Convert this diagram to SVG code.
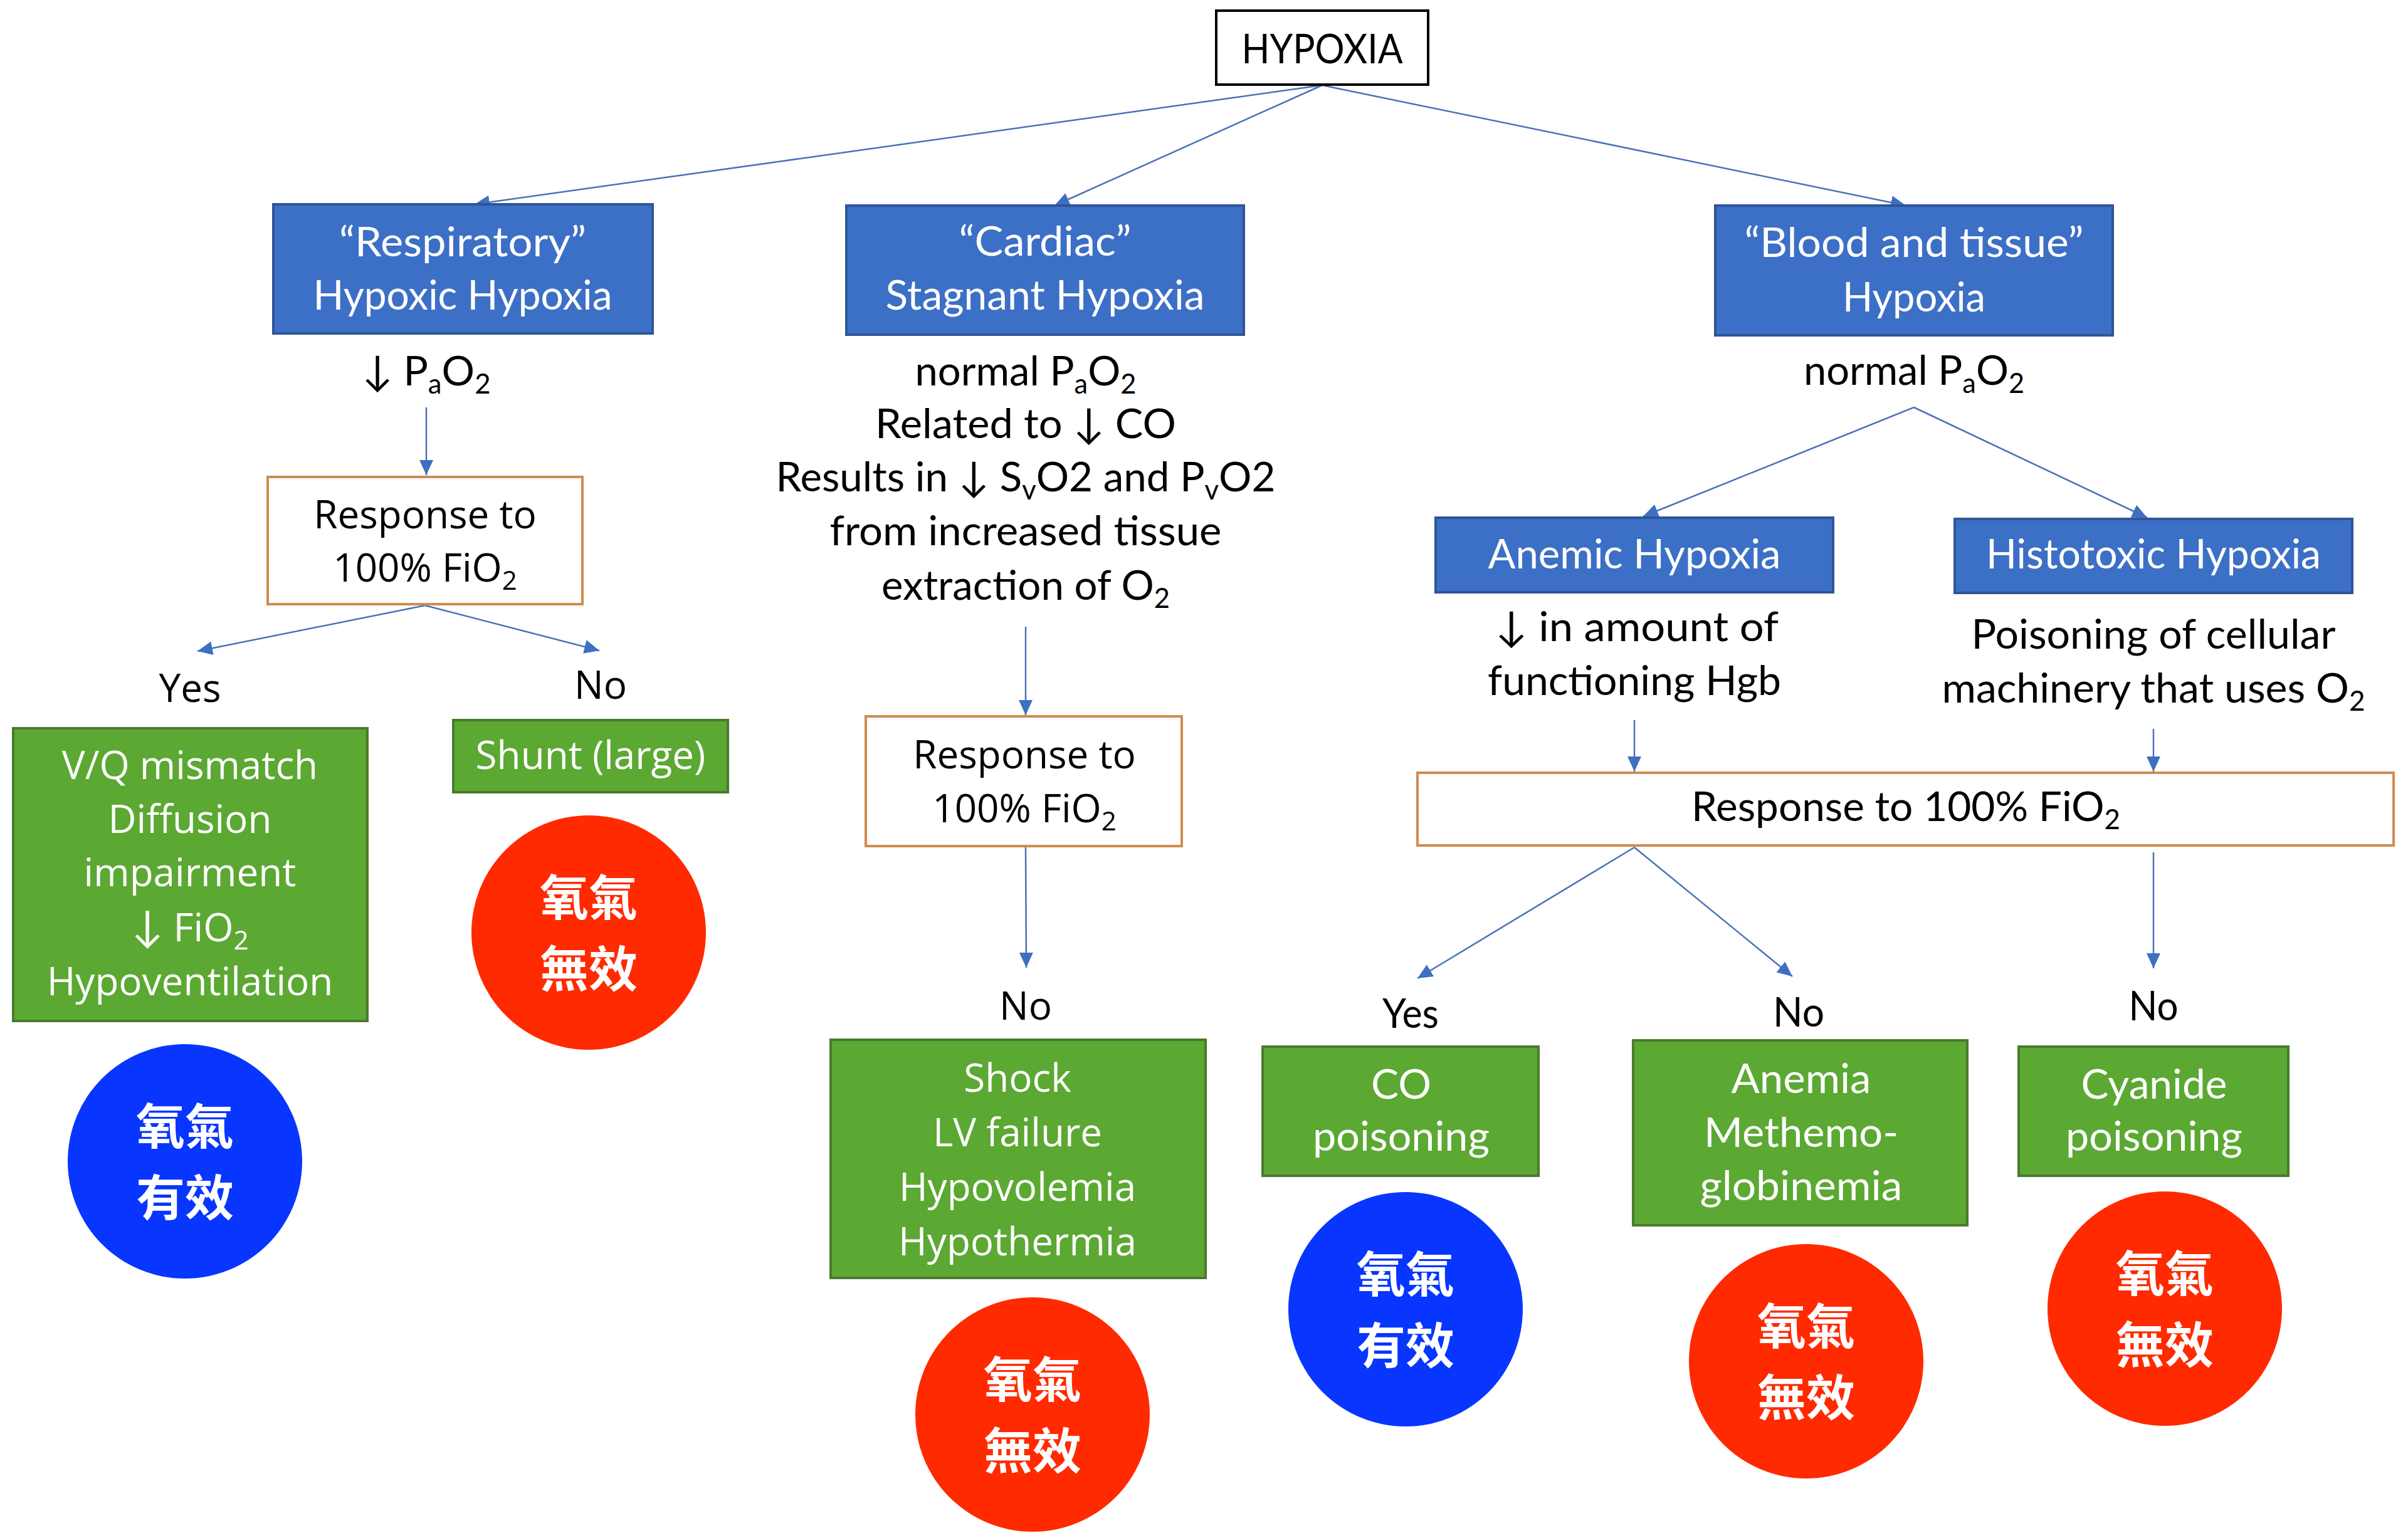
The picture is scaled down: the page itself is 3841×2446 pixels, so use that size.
<svg xmlns="http://www.w3.org/2000/svg" width="3841" height="2446" viewBox="0 0 3841 2446">
<style>
.bg{fill:#ffffff}
.bbox{fill:#3C6FC6;stroke:#2F5597;stroke-width:4}
.gbox{fill:#5BA832;stroke:#4A7A2E;stroke-width:4}
.obox{fill:#ffffff;stroke:#D08C4E;stroke-width:4}
.kbox{fill:#ffffff;stroke:#000000;stroke-width:4}
.red{fill:#FF2A00}
.blue{fill:#0836FF}
.cal{font-family:Lato,"Noto Sans",sans-serif;font-size:66px;text-anchor:middle}
.seg{font-family:"Open Sans","Noto Sans",sans-serif;font-size:62px;text-anchor:middle}
.arr{font-family:Lato,"DejaVu Sans",sans-serif;font-size:68px}
.w{fill:#ffffff}
.k{fill:#000000}
.cjk{font-family:"Noto Sans CJK TC","Noto Sans CJK SC",sans-serif;font-size:78px;font-weight:bold;fill:#ffffff;text-anchor:middle}
.con line{stroke:#4A72B8;stroke-width:2.5;fill:none;marker-end:url(#ah)}
</style>
<defs>
<marker id="ah" markerUnits="userSpaceOnUse" markerWidth="26" markerHeight="22" refX="24" refY="11" orient="auto">
<path d="M0,0 L24,11 L0,22 Z" fill="#3F6FC0"/>
</marker>
</defs>
<rect class="bg" x="0" y="0" width="3841" height="2446"/>

<g id="connectors" class="con">
<line x1="2109" y1="136" x2="757" y2="326"/>
<line x1="2109" y1="136" x2="1682" y2="328"/>
<line x1="2109" y1="136" x2="3040" y2="328"/>
<line x1="680" y1="650" x2="680" y2="758"/>
<line x1="678" y1="966" x2="315" y2="1039"/>
<line x1="678" y1="966" x2="956" y2="1038"/>
<line x1="1636" y1="1000" x2="1636" y2="1141"/>
<line x1="1636" y1="1352" x2="1637" y2="1544"/>
<line x1="3053" y1="650" x2="2621" y2="824"/>
<line x1="3053" y1="650" x2="3425" y2="826"/>
<line x1="2607" y1="1149" x2="2607" y2="1231"/>
<line x1="3435" y1="1163" x2="3435" y2="1231"/>
<line x1="2607" y1="1352" x2="2261" y2="1561"/>
<line x1="2607" y1="1352" x2="2859" y2="1558"/>
<line x1="3435" y1="1360" x2="3435" y2="1545"/>
</g>

<g id="hypoxia">
<rect class="kbox" x="1940" y="17" width="338" height="118"/>
<text class="cal k" x="2109" y="101" textLength="257" lengthAdjust="spacingAndGlyphs">HYPOXIA</text>
</g>

<g id="respiratory">
<rect class="bbox" x="436" y="326" width="605" height="206"/>
<text class="cal w" x="738" y="409" textLength="394" lengthAdjust="spacingAndGlyphs">“Respiratory”</text>
<text class="cal w" x="738" y="494" textLength="477" lengthAdjust="spacingAndGlyphs">Hypoxic Hypoxia</text>
</g>

<g id="resp-pao2">
<text class="cal k" x="680" y="615" textLength="205" lengthAdjust="spacingAndGlyphs">↓ P<tspan font-size="44" dy="13">a</tspan><tspan dy="-13">O</tspan><tspan font-size="44" dy="13">2</tspan></text>
</g>

<g id="resp-response">
<rect class="obox" x="427" y="761" width="502" height="203"/>
<text class="seg k" x="678" y="843">Response to</text>
<text class="seg k" x="678" y="928">100% FiO<tspan font-size="42" dy="13">2</tspan></text>
</g>

<g id="resp-yes"><text class="seg k" x="303" y="1120">Yes</text></g>
<g id="resp-no"><text class="seg k" x="958" y="1115">No</text></g>

<g id="vq">
<rect class="gbox" x="21" y="1162" width="565" height="467"/>
<text class="seg w" x="303" y="1243">V/Q mismatch</text>
<text class="seg w" x="303" y="1329">Diffusion</text>
<text class="seg w" x="303" y="1414">impairment</text>
<text class="seg w" x="303" y="1502"><tspan class="arr">↓</tspan> FiO<tspan font-size="42" dy="13">2</tspan></text>
<text class="seg w" x="303" y="1588">Hypoventilation</text>
</g>

<g id="shunt">
<rect class="gbox" x="723" y="1149" width="438" height="115"/>
<text class="seg w" x="942" y="1227">Shunt (large)</text>
</g>

<g id="circle-vq">
<circle class="blue" cx="295" cy="1853" r="187"/>
<text class="cjk" x="295" y="1826">氧氣</text>
<text class="cjk" x="295" y="1940">有效</text>
</g>

<g id="circle-shunt">
<circle class="red" cx="939" cy="1488" r="187"/>
<text class="cjk" x="939" y="1461">氧氣</text>
<text class="cjk" x="939" y="1575">無效</text>
</g>

<g id="cardiac">
<rect class="bbox" x="1350" y="328" width="634" height="206"/>
<text class="cal w" x="1667" y="408" textLength="275" lengthAdjust="spacingAndGlyphs">“Cardiac”</text>
<text class="cal w" x="1667" y="494" textLength="509" lengthAdjust="spacingAndGlyphs">Stagnant Hypoxia</text>
</g>

<g id="cardiac-desc">
<text class="cal k" x="1636" y="615" textLength="353" lengthAdjust="spacingAndGlyphs">normal P<tspan font-size="44" dy="13">a</tspan><tspan dy="-13">O</tspan><tspan font-size="44" dy="13">2</tspan></text>
<text class="cal k" x="1636" y="699" textLength="480" lengthAdjust="spacingAndGlyphs">Related to ↓ CO</text>
<text class="cal k" x="1636" y="784" textLength="797" lengthAdjust="spacingAndGlyphs">Results in ↓ S<tspan font-size="44" dy="13">v</tspan><tspan dy="-13">O2 and P</tspan><tspan font-size="44" dy="13">v</tspan><tspan dy="-13">O2</tspan></text>
<text class="cal k" x="1636" y="870" textLength="625" lengthAdjust="spacingAndGlyphs">from increased tissue</text>
<text class="cal k" x="1636" y="957" textLength="460" lengthAdjust="spacingAndGlyphs">extraction of O<tspan font-size="44" dy="13">2</tspan></text>
</g>

<g id="cardiac-response">
<rect class="obox" x="1381" y="1143" width="504" height="207"/>
<text class="seg k" x="1634" y="1226">Response to</text>
<text class="seg k" x="1634" y="1312">100% FiO<tspan font-size="42" dy="13">2</tspan></text>
</g>

<g id="cardiac-no"><text class="seg k" x="1636" y="1627">No</text></g>

<g id="shock">
<rect class="gbox" x="1325" y="1659" width="598" height="380"/>
<text class="seg w" x="1623" y="1742">Shock</text>
<text class="seg w" x="1623" y="1829">LV failure</text>
<text class="seg w" x="1623" y="1916">Hypovolemia</text>
<text class="seg w" x="1623" y="2003">Hypothermia</text>
</g>

<g id="circle-shock">
<circle class="red" cx="1647" cy="2257" r="187"/>
<text class="cjk" x="1647" y="2230">氧氣</text>
<text class="cjk" x="1647" y="2344">無效</text>
</g>

<g id="blood">
<rect class="bbox" x="2736" y="328" width="634" height="207"/>
<text class="cal w" x="3053" y="410" textLength="541" lengthAdjust="spacingAndGlyphs">“Blood and tissue”</text>
<text class="cal w" x="3053" y="497" textLength="228" lengthAdjust="spacingAndGlyphs">Hypoxia</text>
</g>

<g id="blood-pao2">
<text class="cal k" x="3053" y="614" textLength="352" lengthAdjust="spacingAndGlyphs">normal P<tspan font-size="44" dy="13">a</tspan><tspan dy="-13">O</tspan><tspan font-size="44" dy="13">2</tspan></text>
</g>

<g id="anemic">
<rect class="bbox" x="2290" y="826" width="634" height="119"/>
<text class="cal w" x="2607" y="907" textLength="467" lengthAdjust="spacingAndGlyphs">Anemic Hypoxia</text>
</g>

<g id="anemic-desc">
<text class="cal k" x="2611" y="1023" textLength="452" lengthAdjust="spacingAndGlyphs">↓ in amount of</text>
<text class="cal k" x="2607" y="1109" textLength="468" lengthAdjust="spacingAndGlyphs">functioning Hgb</text>
</g>

<g id="histotoxic">
<rect class="bbox" x="3118" y="828" width="634" height="118"/>
<text class="cal w" x="3435" y="907" textLength="534" lengthAdjust="spacingAndGlyphs">Histotoxic Hypoxia</text>
</g>

<g id="histotoxic-desc">
<text class="cal k" x="3435" y="1035" textLength="581" lengthAdjust="spacingAndGlyphs">Poisoning of cellular</text>
<text class="cal k" x="3435" y="1121" textLength="675" lengthAdjust="spacingAndGlyphs">machinery that uses O<tspan font-size="44" dy="13">2</tspan></text>
</g>

<g id="blood-response">
<rect class="obox" x="2261" y="1233" width="1557" height="116"/>
<text class="cal k" x="3040" y="1310" textLength="684" lengthAdjust="spacingAndGlyphs">Response to 100% FiO<tspan font-size="44" dy="13">2</tspan></text>
</g>

<g id="blood-yes"><text class="cal k" x="2250" y="1640" textLength="90" lengthAdjust="spacingAndGlyphs">Yes</text></g>
<g id="blood-no1"><text class="cal k" x="2869" y="1638" textLength="82" lengthAdjust="spacingAndGlyphs">No</text></g>
<g id="blood-no2"><text class="cal k" x="3435" y="1628" textLength="79" lengthAdjust="spacingAndGlyphs">No</text></g>

<g id="co">
<rect class="gbox" x="2014" y="1670" width="440" height="206"/>
<text class="cal w" x="2235" y="1753">CO</text>
<text class="cal w" x="2235" y="1836" textLength="282" lengthAdjust="spacingAndGlyphs">poisoning</text>
</g>

<g id="anemia">
<rect class="gbox" x="2605" y="1660" width="533" height="295"/>
<text class="cal w" x="2873" y="1744" textLength="223" lengthAdjust="spacingAndGlyphs">Anemia</text>
<text class="cal w" x="2873" y="1830" textLength="310" lengthAdjust="spacingAndGlyphs">Methemo-</text>
<text class="cal w" x="2873" y="1915" textLength="323" lengthAdjust="spacingAndGlyphs">globinemia</text>
</g>

<g id="cyanide">
<rect class="gbox" x="3220" y="1670" width="430" height="206"/>
<text class="cal w" x="3436" y="1753" textLength="233" lengthAdjust="spacingAndGlyphs">Cyanide</text>
<text class="cal w" x="3436" y="1836" textLength="282" lengthAdjust="spacingAndGlyphs">poisoning</text>
</g>

<g id="circle-co">
<circle class="blue" cx="2242" cy="2089" r="187"/>
<text class="cjk" x="2242" y="2062">氧氣</text>
<text class="cjk" x="2242" y="2176">有效</text>
</g>

<g id="circle-anemia">
<circle class="red" cx="2881" cy="2172" r="187"/>
<text class="cjk" x="2881" y="2145">氧氣</text>
<text class="cjk" x="2881" y="2259">無效</text>
</g>

<g id="circle-cyanide">
<circle class="red" cx="3453" cy="2088" r="187"/>
<text class="cjk" x="3453" y="2061">氧氣</text>
<text class="cjk" x="3453" y="2175">無效</text>
</g>
</svg>
